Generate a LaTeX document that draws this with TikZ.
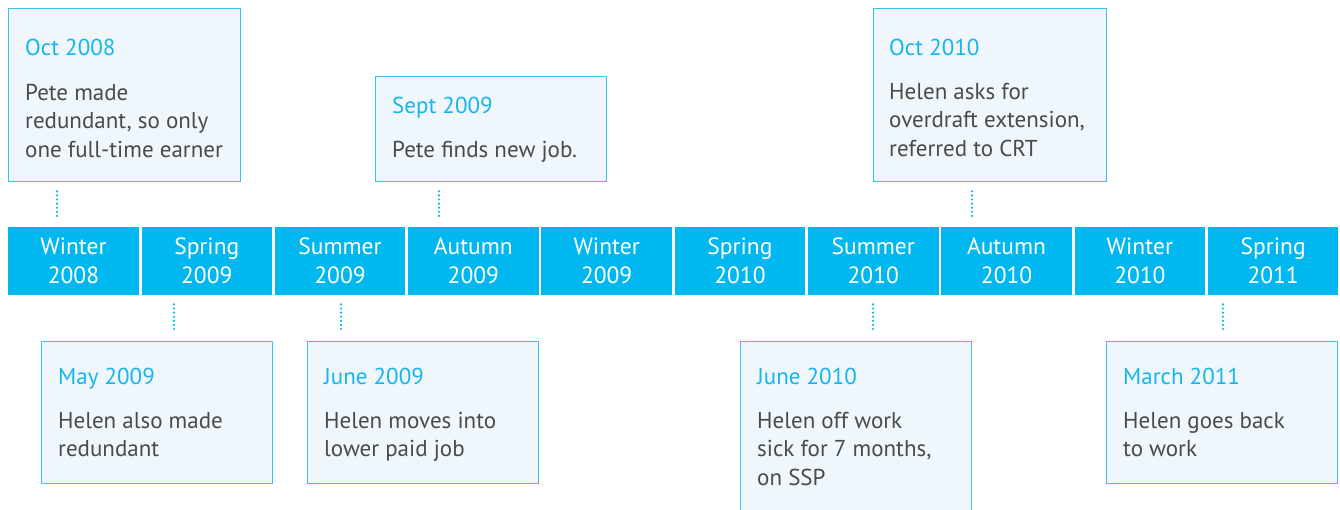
\documentclass[tikz,border=0pt]{standalone}
\usepackage{fontspec}
\setmainfont{PT Sans}
\usetikzlibrary{calc}
\definecolor{barblue}{HTML}{00B7EF}
\definecolor{boxfill}{HTML}{EFF7FD}
\definecolor{boxline}{HTML}{3CC2EF}
\definecolor{titleblue}{HTML}{16B6EC}
\definecolor{bodygrey}{HTML}{4A4A4A}
\newcommand{\evlines}[1]{\begin{tabular}[t]{@{}l@{}}#1\end{tabular}}
\begin{document}
\begin{tikzpicture}[x=1pt,y=-1pt,
  seg/.style={fill=barblue, draw=none, minimum width=130.5pt, minimum height=68pt,
    inner sep=0pt, anchor=north west, text=white, align=center,
    font=\fontsize{23.5}{29}\selectfont},
  evbox/.style={draw=boxline, fill=boxfill, line width=1.3pt, anchor=north west,
    inner sep=0pt},
  evtitle/.style={anchor=base west, inner sep=0pt, text=titleblue,
    font=\fontsize{23}{28.5}\selectfont},
  evbody/.style={anchor=base west, inner sep=0pt, text=bodygrey,
    font=\fontsize{23}{28.5}\selectfont},
  dotline/.style={draw=barblue, line width=2.4pt, line cap=round,
    dash pattern=on 0pt off 4.1pt}]
\useasboundingbox (0,0) rectangle (1340,509);
\clip (0,0) rectangle (1340,509);
% timeline segments
\foreach \i/\a/\b in {1/Winter/2008, 2/Spring/2009, 3/Summer/2009, 4/Autumn/2009,
  5/Winter/2009, 6/Spring/2010, 7/Summer/2010, 8/Autumn/2010, 9/Winter/2010, 10/Spring/2011}
  \node[seg] (s\i) at ({8+133.3*(\i-1)},227) {\a\\\b};
% event boxes
\node[evbox, minimum width=232pt, minimum height=173pt] (b1) at (8,8) {};
\node[evbox, minimum width=231pt, minimum height=105pt] (b2) at (375,76) {};
\node[evbox, minimum width=233pt, minimum height=173pt] (b3) at (873,8) {};
\node[evbox, minimum width=231pt, minimum height=142pt] (b4) at (41,341) {};
\node[evbox, minimum width=231pt, minimum height=142pt] (b5) at (307,341) {};
\node[evbox, minimum width=231pt, minimum height=190pt] (b6) at (740,341) {};
\node[evbox, minimum width=231pt, minimum height=142pt] (b7) at (1106,341) {};
% texts
\node[evtitle] (t1) at ($(b1.north west)+(17,47)$) {Oct 2008};
\node[evbody] (p1) at ($(b1.north west)+(17,92)$) {\evlines{Pete made\\redundant, so only\\one full-time earner}};
\node[evtitle] (t2) at ($(b2.north west)+(17,37)$) {Sept 2009};
\node[evbody] (p2) at ($(b2.north west)+(17,81)$) {\evlines{Pete finds new job.}};
\node[evtitle] (t3) at ($(b3.north west)+(16,47)$) {Oct 2010};
\node[evbody] (p3) at ($(b3.north west)+(16,91)$) {\evlines{Helen asks for\\overdraft extension,\\referred to CRT}};
\node[evtitle] (t4) at ($(b4.north west)+(17,43)$) {May 2009};
\node[evbody] (p4) at ($(b4.north west)+(17,87)$) {\evlines{Helen also made\\redundant}};
\node[evtitle] (t5) at ($(b5.north west)+(17,43)$) {June 2009};
\node[evbody] (p5) at ($(b5.north west)+(17,87)$) {\evlines{Helen moves into\\lower paid job}};
\node[evtitle] (t6) at ($(b6.north west)+(17,43)$) {June 2010};
\node[evbody] (p6) at ($(b6.north west)+(17,87)$) {\evlines{Helen off work\\sick for 7 months,\\on SSP}};
\node[evtitle] (t7) at ($(b7.north west)+(17,43)$) {March 2011};
\node[evbody] (p7) at ($(b7.north west)+(17,87)$) {\evlines{Helen goes back\\to work}};
% dotted connectors
\coordinate (x1) at (57,0);
\coordinate (x2) at (439,0);
\coordinate (x3) at (972,0);
\coordinate (x4) at (174,0);
\coordinate (x5) at (341,0);
\coordinate (x6) at (873,0);
\coordinate (x7) at (1223,0);
\draw[dotline] ($(b1.south -| x1)+(0,9)$) -- ($(s1.north -| x1)+(0,-9)$);
\draw[dotline] ($(b2.south -| x2)+(0,9)$) -- ($(s4.north -| x2)+(0,-9)$);
\draw[dotline] ($(b3.south -| x3)+(0,9)$) -- ($(s8.north -| x3)+(0,-9)$);
\draw[dotline] ($(s2.south -| x4)+(0,9)$) -- ($(b4.north -| x4)+(0,-8)$);
\draw[dotline] ($(s3.south -| x5)+(0,9)$) -- ($(b5.north -| x5)+(0,-8)$);
\draw[dotline] ($(s7.south -| x6)+(0,9)$) -- ($(b6.north -| x6)+(0,-8)$);
\draw[dotline] ($(s10.south -| x7)+(0,9)$) -- ($(b7.north -| x7)+(0,-8)$);
\end{tikzpicture}
\end{document}
